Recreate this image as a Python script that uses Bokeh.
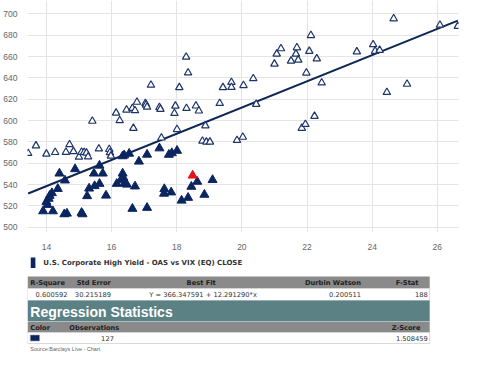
from bokeh.plotting import figure
from bokeh.layouts import column
from bokeh.models import Range1d, FixedTicker
from bokeh.core.properties import value
from bokeh.embed import file_html
from bokeh.resources import INLINE

# ---------------- data ----------------
open_x = [13.44, 13.68, 14.00, 14.27, 14.60, 14.71, 14.83, 15.00, 15.08, 15.16,
          15.23, 15.28, 15.61, 15.93, 15.95, 15.98, 16.67, 17.53, 18.01, 18.88,
          18.79, 18.91, 19.02, 19.85, 20.03, 15.41, 16.14, 16.25, 16.46, 16.64,
          16.72, 16.78, 17.04, 17.06, 17.09, 17.21, 17.47, 17.50, 17.93, 17.96,
          18.08, 18.29, 18.35, 18.30, 18.59, 18.68, 19.32, 19.42, 19.68, 19.68,
          20.05, 20.35, 20.44, 21.00, 21.07, 21.20, 21.51, 21.66, 21.69, 21.73,
          22.07, 22.12, 21.98, 21.84, 21.95, 22.30, 22.45, 22.23, 23.53, 24.03,
          24.09, 24.23, 24.45, 24.66, 25.07, 26.08, 26.63]
open_y = [569.3, 576.4, 568.7, 570.2, 570.4, 577.5, 571.0, 565.8, 570.4, 570.2,
          569.6, 566.0, 573.5, 573.0, 570.0, 566.8, 592.8, 583.8, 591.7, 595.2,
          580.8, 579.9, 579.9, 581.5, 584.5, 599.5, 607.1, 600.0, 610.0, 611.5,
          609.4, 617.3, 616.2, 614.7, 612.7, 633.3, 612.4, 610.6, 606.8, 613.7,
          631.0, 659.6, 644.8, 611.5, 613.8, 609.1, 616.2, 631.0, 635.9, 631.2,
          633.0, 639.4, 615.3, 653.1, 662.5, 667.5, 655.9, 662.5, 668.4, 656.8,
          665.0, 679.9, 644.7, 592.9, 596.5, 658.0, 635.4, 604.1, 664.6, 671.3,
          665.1, 666.0, 626.5, 695.6, 634.2, 689.6, 688.5]

filled_x = [13.90, 14.00, 14.03, 14.07, 14.10, 14.17, 14.20, 14.35, 14.40, 14.57,
            14.55, 14.63, 14.88, 15.08, 15.11, 15.25, 15.31, 15.46, 15.48, 15.63,
            15.63, 15.73, 15.83, 16.16, 16.28, 16.34, 16.36, 16.40, 16.47, 16.34,
            16.39, 16.54, 16.64, 16.72, 16.84, 17.09, 17.09, 17.47, 17.62, 17.61,
            17.83, 17.76, 17.85, 18.01, 18.15, 18.35, 18.45, 18.63, 18.85, 19.10]
filled_y = [515.0, 523.8, 521.0, 526.8, 529.5, 532.0, 515.0, 536.0, 550.4, 543.9,
            512.2, 512.8, 554.5, 513.5, 512.2, 529.2, 536.3, 550.4, 538.6, 557.8,
            540.7, 550.4, 529.7, 540.7, 544.0, 550.4, 546.5, 541.0, 540.0, 566.6,
            567.5, 569.0, 517.3, 538.3, 561.6, 518.2, 568.1, 574.0, 535.8, 531.5,
            532.7, 568.0, 569.5, 571.7, 525.0, 527.6, 538.0, 542.7, 530.5, 544.3]

latest_x = [18.49]
latest_y = [548.5]

fit_intercept = 366.347591
fit_slope = 12.291290

x_ticks = [14, 16, 18, 20, 22, 24, 26]
y_ticks = [500, 520, 540, 560, 580, 600, 620, 640, 660, 680, 700]

series_name = "U.S. Corporate High Yield - OAS vs VIX (EQ) CLOSE"
stats_headers = ["R-Square", "Std Error", "Best Fit", "Durbin Watson", "F-Stat"]
stats_values = ["0.600592", "30.215189", "Y = 366.347591 + 12.291290*x", "0.200511", "188"]
summary_title = "Regression Statistics"
summary_headers = ["Color", "Observations", "Z-Score"]
summary_values = ["127", "1.508459"]
source_note = "Source:Barclays Live - Chart"

# ---------------- styles ----------------
NAVY = "#0b2560"
LINE_NAVY = "#0e2654"
HEAD_GRAY = "#8a8a8a"
TEAL = "#5b8184"
AXIS_FONT = "Liberation Sans"
TABLE_FONT = "DejaVu Sans"

# ---------------- scatter plot ----------------
p = figure(width=464, height=252,
           x_range=Range1d(13.42, 26.65), y_range=Range1d(495, 712.6),
           output_backend="svg", toolbar_location=None,
           min_border_left=0, min_border_right=6, min_border_top=0, min_border_bottom=0)
p.outline_line_color = None
p.background_fill_color = "white"
p.border_fill_color = "white"

for ax in (p.xaxis[0], p.yaxis[0]):
    ax.axis_line_color = None
    ax.major_tick_line_color = None
    ax.minor_tick_line_color = None
    ax.major_label_text_font = AXIS_FONT
    ax.major_label_text_font_size = "8.5px"
    ax.major_label_text_color = "#666666"
p.xaxis.ticker = FixedTicker(ticks=x_ticks)
p.yaxis.ticker = FixedTicker(ticks=y_ticks)
p.xaxis.major_label_standoff = 5
p.yaxis.major_label_standoff = 4
p.xgrid.grid_line_color = "#e4e4e4"
p.ygrid.grid_line_color = "#e4e4e4"

all_x = open_x + filled_x + latest_x
x0, x1 = min(all_x), max(all_x)
p.line([x0, x1], [fit_intercept + fit_slope * x0, fit_intercept + fit_slope * x1],
       line_color=LINE_NAVY, line_width=2)

p.scatter(open_x, open_y, marker="triangle", size=7.5,
          fill_color="white", line_color="#1c3468", line_width=1.2)
p.scatter(filled_x, filled_y, marker="triangle", size=9,
          fill_color=NAVY, line_color=NAVY, line_width=1)
p.scatter(latest_x, latest_y, marker="triangle", size=9,
          fill_color="#e3141c", line_color="#e3141c", line_width=1)

# ---------------- legend + statistics table ----------------
t = figure(width=464, height=100,
           x_range=Range1d(0, 464), y_range=Range1d(100, 0),
           output_backend="svg", toolbar_location=None,
           min_border=0, x_axis_type=None, y_axis_type=None)
t.outline_line_color = None
t.grid.visible = False

# legend
t.quad(left=[3.5], right=[8.5], top=[5], bottom=[15.5], fill_color=NAVY, line_color=None)
t.text(x=[17], y=[10.5], text=[series_name], text_font=value(TABLE_FONT),
       text_font_size=value("7px"), text_font_style="bold", text_color="#333333",
       text_align="left", text_baseline="middle")

# table backgrounds
t.quad(left=[0], right=[433], top=[24], bottom=[36], fill_color=HEAD_GRAY, line_color=None)
t.quad(left=[0], right=[433], top=[36], bottom=[48], fill_color="white", line_color="#d0d0d0", line_width=0.8)
t.quad(left=[0], right=[433], top=[48], bottom=[69], fill_color=TEAL, line_color=None)
t.quad(left=[0], right=[433], top=[69.5], bottom=[80], fill_color=HEAD_GRAY, line_color=None)
t.quad(left=[0], right=[433], top=[80], bottom=[91], fill_color="white", line_color="#d0d0d0", line_width=0.8)

fs = value("6.7px")
tf = value(TABLE_FONT)

# header 1
h1_x = [3, 53, 187, 359, 421]
h1_align = ["left", "left", "center", "right", "right"]
for i, h in enumerate(stats_headers):
    t.text(x=[h1_x[i]], y=[30.3], text=[h], text_font=tf, text_font_size=fs,
           text_font_style="bold", text_color="#1e1e1e", text_align=h1_align[i],
           text_baseline="middle")
# row 1
v1_x = [43, 51, 189, 359, 431]
v1_align = ["right", "left", "center", "right", "right"]
for i, v in enumerate(stats_values):
    t.text(x=[v1_x[i]], y=[42.3], text=[v], text_font=tf, text_font_size=fs,
           text_color="#333333", text_align=v1_align[i], text_baseline="middle")

# title band
t.text(x=[3], y=[59], text=[summary_title], text_font=value("Liberation Sans"),
       text_font_size=value("14px"), text_font_style="bold", text_color="white",
       text_align="left", text_baseline="middle")

# header 2
h2_x = [3, 45, 423]
h2_align = ["left", "left", "right"]
for i, h in enumerate(summary_headers):
    t.text(x=[h2_x[i]], y=[75], text=[h], text_font=tf, text_font_size=fs,
           text_font_style="bold", text_color="#1e1e1e", text_align=h2_align[i],
           text_baseline="middle")

# row 2
t.quad(left=[3], right=[13], top=[82.5], bottom=[88.5], fill_color=NAVY, line_color="#9aa3b5", line_width=0.6)
v2_x = [93, 431]
for i, v in enumerate(summary_values):
    t.text(x=[v2_x[i]], y=[85.7], text=[v], text_font=tf, text_font_size=fs,
           text_color="#333333", text_align="right", text_baseline="middle")

# source
t.text(x=[3], y=[96.5], text=[source_note], text_font=value("Liberation Sans"),
       text_font_size=value("5.5px"), text_color="#666666",
       text_align="left", text_baseline="middle")

layout = column(p, t, spacing=0)
open("out.html", "w").write(file_html(layout, INLINE))
